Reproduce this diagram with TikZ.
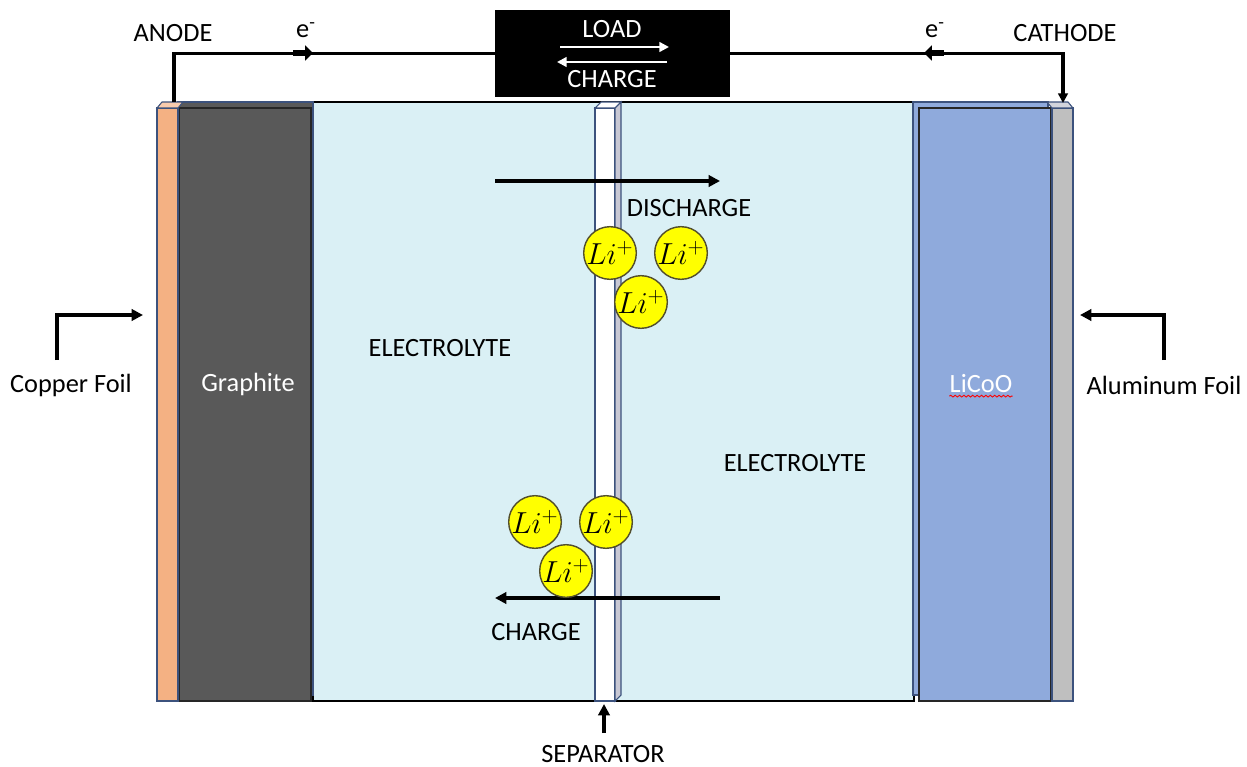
\documentclass[tikz,border=0pt]{standalone}
\usepackage{fontspec}
\setmainfont{Carlito}
\usetikzlibrary{arrows.meta,positioning,decorations.pathmorphing}

\definecolor{bacopper}{RGB}{244,177,131}
\definecolor{bacoppertop}{RGB}{248,203,173}
\definecolor{bagraphite}{RGB}{89,89,89}
\definecolor{baelectro}{RGB}{218,240,245}
\definecolor{balicoo}{RGB}{143,170,220}
\definecolor{baalu}{RGB}{191,191,191}
\definecolor{baalutop}{RGB}{210,212,220}
\definecolor{baedge}{RGB}{60,82,125}
\definecolor{basep}{RGB}{200,200,212}
\definecolor{baion}{RGB}{255,255,0}

\begin{document}
\begin{tikzpicture}[
    x=0.02cm, y=-0.02cm,
    font=\fontsize{15}{18}\selectfont,
    layer/.style={draw=baedge, line width=0.6pt},
    front/.style={draw=black!85, line width=1pt},
    wire/.style={line width=1.8pt},
    pointer/.style={line width=2pt, -{Triangle[length=6.5pt, width=6.5pt]}},
    ebar/.style={line width=3.4pt, -{Triangle[length=4.5pt, width=8.5pt]}},
    whitearrow/.style={white, line width=1.3pt, -{Triangle[length=5.5pt, width=5.5pt]}},
    ion/.style={circle, draw=black!55!olive, fill=baion, line width=0.8pt,
      minimum size=0.98cm, inner sep=0pt, font=\fontsize{17}{19}\selectfont},
    lbl/.style={inner sep=0pt},
  ]
    \useasboundingbox (0,0) rectangle (1247,767);

    % --- electrolyte between the electrodes
    \draw[fill=baelectro, line width=0.6pt] (313,102) rectangle (914,701);

    % --- anode: graphite block and copper foil
    \draw[layer, fill=bagraphite] (178,102) rectangle (313,695);
    \draw[front, fill=bagraphite] (179,108) rectangle (311,701);
    \draw[layer, fill=bacopper] (157,108) rectangle (178,701);
    \draw[layer, fill=bacoppertop] (157,108) -- (162,102) -- (183,102) -- (178,108) -- cycle;

    % --- separator (thin slab)
    \draw[layer, fill=white] (595,108) rectangle (615,701);
    \draw[layer, fill=white] (595,108) -- (601,102) -- (621,102) -- (615,108) -- cycle;
    \draw[layer, fill=basep] (615,108) -- (621,102) -- (621,695) -- (615,701) -- cycle;

    % --- cathode: LiCoO block and aluminum foil
    \draw[layer, fill=balicoo] (913,102) rectangle (1048,695);
    \draw[front, fill=balicoo] (919,108) rectangle (1051,701);
    \draw[layer, fill=baalu] (1052,108) rectangle (1073,701);
    \draw[layer, fill=baalutop] (1047,102) -- (1068,102) -- (1073,108) -- (1052,108) -- cycle;

    % --- labels inside the cell
    \node[lbl, white] (graphite) at (248,384) {Graphite};
    \node[lbl, white] (licoo) at (981,384) {LiCoO};
    \draw[red, line width=0.5pt, decorate, decoration={snake, amplitude=0.5pt, segment length=2.5pt}]
      ([yshift=-1.5pt]licoo.south west) -- ([yshift=-1.5pt]licoo.south east);
    \node[lbl] (elyteL) at (440,348) {ELECTROLYTE};
    \node[lbl] (elyteR) at (795,463) {ELECTROLYTE};
    \node[lbl] (dis) at (689,208) {DISCHARGE};
    \node[lbl] (chg) at (536,632) {CHARGE};

    % --- ion flow arrows
    \coordinate (disA) at (495,181);
    \coordinate (disB) at (720,181);
    \coordinate (chgA) at (720,598);
    \coordinate (chgB) at (495,598);
    \draw[pointer] (disA) -- (disB);
    \draw[pointer] (chgA) -- (chgB);

    % --- lithium ions
    \foreach \n/\px/\py in {u1/610/253, u2/681/253, u3/641/302,
                            d1/535/522, d2/606/522, d3/566/571} {
      \node[ion] (li\n) at (\px,\py) {$Li^{+}$};
    }

    % --- external circuit
    \node[fill=black, minimum width=4.7cm, minimum height=1.74cm, inner sep=0pt]
      (load) at (612.5,53.5) {};
    \node[lbl, white] (loadtxt) at (612,29) {LOAD};
    \node[lbl, white] (chargetxt) at (612,79) {CHARGE};
    \coordinate (lA) at (560,47);
    \coordinate (lB) at (669,47);
    \coordinate (cA) at (667,62);
    \coordinate (cB) at (557,62);
    \draw[whitearrow] (lA) -- (lB);
    \draw[whitearrow] (cA) -- (cB);

    \coordinate (atab) at (174,102);
    \coordinate (ctab) at (1063,103);
    \draw[wire] (atab) |- (load.west);
    \draw[wire, -{Triangle[length=5.5pt, width=5.5pt]}] (load.east) -| (ctab);
    \coordinate (eL1) at (293,53);
    \coordinate (eL2) at (313,53);
    \coordinate (eR1) at (944,53);
    \coordinate (eR2) at (924,53);
    \draw[ebar] (eL1) -- (eL2);
    \draw[ebar] (eR1) -- (eR2);
    \node[lbl] (eleft) at (306,30) {e\textsuperscript{-}};
    \node[lbl] (eright) at (935,30) {e\textsuperscript{-}};
    \node[lbl] (anode) at (173,33) {ANODE};
    \node[lbl] (cathode) at (1065,33) {CATHODE};

    % --- foil and separator callouts
    \node[lbl] (cufoil) at (71,385) {Copper Foil};
    \node[lbl] (alfoil) at (1164,385) {Aluminum Foil};
    \node[lbl] (sep) at (603,754) {SEPARATOR};
    \coordinate (cuA) at (57,360);
    \coordinate (cuB) at (143,315);
    \coordinate (alA) at (1164,360);
    \coordinate (alB) at (1080,315);
    \coordinate (sepA) at (604,733);
    \coordinate (sepB) at (604,704);
    \draw[pointer] (cuA) |- (cuB);
    \draw[pointer] (alA) |- (alB);
    \draw[pointer] (sepA) -- (sepB);
\end{tikzpicture}
\end{document}
